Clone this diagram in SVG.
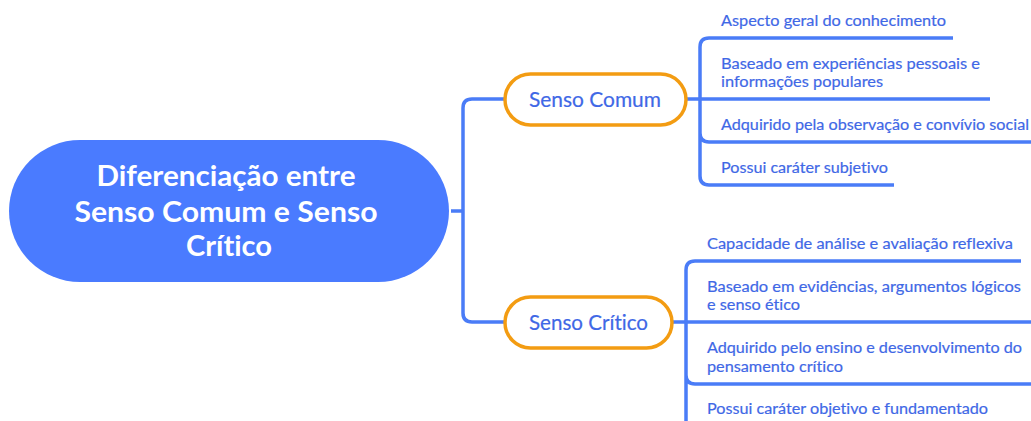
<svg xmlns="http://www.w3.org/2000/svg" width="1031" height="421" viewBox="0 0 1031 421">
<style>
text{font-family:Lato,"Open Sans",sans-serif;font-variant-ligatures:none}
.c{fill:none;stroke:#4a7cf7;stroke-width:3.5}
.l{font-size:15.5px;fill:#3f68e6;stroke:#3f68e6;stroke-width:.2}
.t{font-size:28.5px;font-weight:700;fill:#fff;text-anchor:middle}
.n{font-size:21px;fill:#3f68e6;stroke:#3f68e6;stroke-width:.2}
.b{fill:#fff;stroke:#f39c12;stroke-width:3.5}
</style>
<rect width="1031" height="421" fill="#fff"/>
<g id="connectors">
<path class="c" d="M451 211H463M505 99H472Q463 99 463 108V313Q463 322 472 322H505"/>
<path class="c" d="M686 99H990M953 38H709Q700 38 700 47V176Q700 185 709 185H894M700 133Q700 142 709 142H1031"/>
<path class="c" d="M672 322H1031M1021 261H695Q686 261 686 270V421M686 375Q686 384 695 384H1031"/>
</g>
<g id="root">
<rect x="9" y="140" width="440" height="142" rx="71" fill="#4a7bff"/>
<text class="t" x="226" y="186" textLength="259" lengthAdjust="spacingAndGlyphs">Diferenciação entre</text>
<text class="t" x="226" y="222" textLength="303" lengthAdjust="spacingAndGlyphs">Senso Comum e Senso</text>
<text class="t" x="229" y="256" textLength="86" lengthAdjust="spacingAndGlyphs">Crítico</text>
</g>
<g id="senso-comum">
<rect class="b" x="505" y="74" width="181" height="51" rx="25.5"/>
<text class="n" x="529" y="107" textLength="132" lengthAdjust="spacingAndGlyphs">Senso Comum</text>
</g>
<g id="senso-critico">
<rect class="b" x="505" y="297" width="167" height="51" rx="25.5"/>
<text class="n" x="529" y="330" textLength="119" lengthAdjust="spacingAndGlyphs">Senso Crítico</text>
</g>
<g id="comum-1"><text class="l" x="721" y="26" textLength="225" lengthAdjust="spacingAndGlyphs">Aspecto geral do conhecimento</text></g>
<g id="comum-2">
<text class="l" x="721" y="69" textLength="259" lengthAdjust="spacingAndGlyphs">Baseado em experiências pessoais e</text>
<text class="l" x="721" y="87" textLength="162" lengthAdjust="spacingAndGlyphs">informações populares</text>
</g>
<g id="comum-3"><text class="l" x="721" y="130" textLength="308" lengthAdjust="spacingAndGlyphs">Adquirido pela observação e convívio social</text></g>
<g id="comum-4"><text class="l" x="721" y="173" textLength="167" lengthAdjust="spacingAndGlyphs">Possui caráter subjetivo</text></g>
<g id="critico-1"><text class="l" x="707" y="249" textLength="306" lengthAdjust="spacingAndGlyphs">Capacidade de análise e avaliação reflexiva</text></g>
<g id="critico-2">
<text class="l" x="707" y="292" textLength="314" lengthAdjust="spacingAndGlyphs">Baseado em evidências, argumentos lógicos</text>
<text class="l" x="707" y="310" textLength="93" lengthAdjust="spacingAndGlyphs">e senso ético</text>
</g>
<g id="critico-3">
<text class="l" x="707" y="353" textLength="315" lengthAdjust="spacingAndGlyphs">Adquirido pelo ensino e desenvolvimento do</text>
<text class="l" x="707" y="372" textLength="136" lengthAdjust="spacingAndGlyphs">pensamento crítico</text>
</g>
<g id="critico-4"><text class="l" x="707" y="414" textLength="281" lengthAdjust="spacingAndGlyphs">Possui caráter objetivo e fundamentado</text></g>
</svg>
